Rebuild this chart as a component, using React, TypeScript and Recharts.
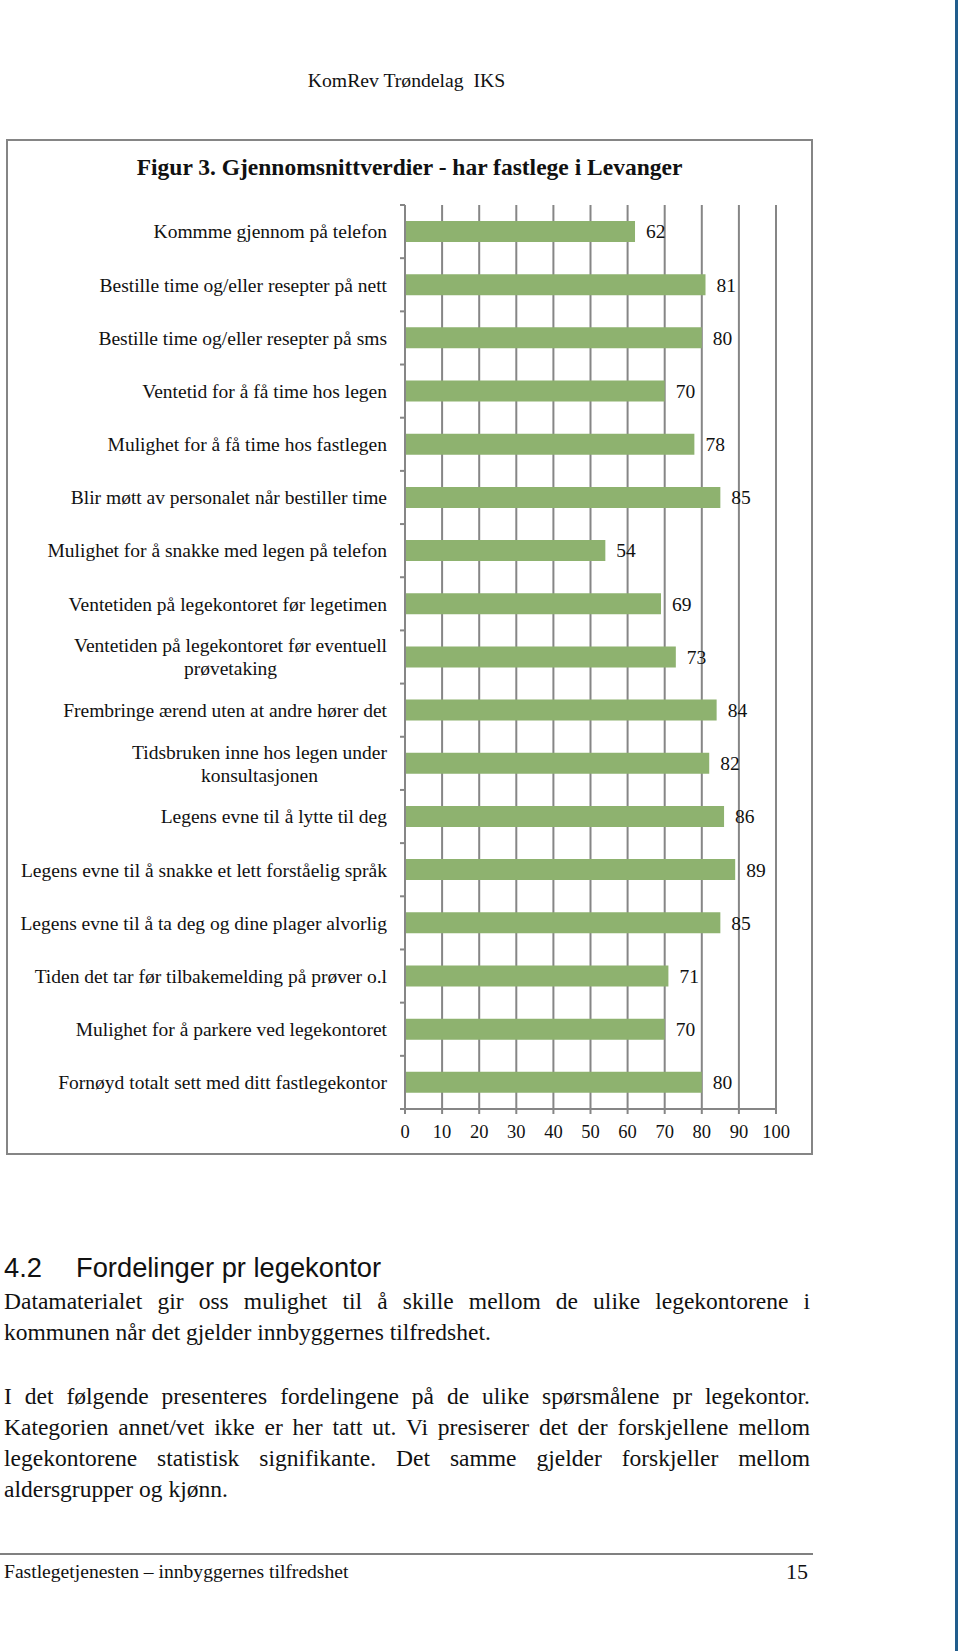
import React from 'react';
import { BarChart, Bar, XAxis, YAxis, CartesianGrid, LabelList } from 'recharts';

const categories: string[] = [
  'Kommme gjennom på telefon',
  'Bestille time og/eller resepter på nett',
  'Bestille time og/eller resepter på sms',
  'Ventetid for å få time hos legen',
  'Mulighet for å få time hos fastlegen',
  'Blir møtt av personalet når bestiller time',
  'Mulighet for å snakke med legen på telefon',
  'Ventetiden på legekontoret før legetimen',
  'Ventetiden på legekontoret før eventuell\nprøvetaking',
  'Frembringe ærend uten at andre hører det',
  'Tidsbruken inne hos legen under\nkonsultasjonen',
  'Legens evne til å lytte til deg',
  'Legens evne til å snakke et lett forståelig språk',
  'Legens evne til å ta deg og dine plager alvorlig',
  'Tiden det tar før tilbakemelding på prøver o.l',
  'Mulighet for å parkere ved legekontoret',
  'Fornøyd totalt sett med ditt fastlegekontor',
];

const values: number[] = [62, 81, 80, 70, 78, 85, 54, 69, 73, 84, 82, 86, 89, 85, 71, 70, 80];

const xTicks: number[] = [0, 10, 20, 30, 40, 50, 60, 70, 80, 90, 100];

const data = categories.map((name, i) => ({ name, value: values[i] }));

const SERIF = '"Liberation Serif", "Times New Roman", serif';
const SANS = '"Liberation Sans", Arial, sans-serif';
const GRID = '#868686';
const BAR = '#8eb26f';

const CHART_W = 820;
const CHART_H = 960;
const MARGIN = { top: 10, right: 44, bottom: 6, left: 0 };
const Y_W = 405;
const X_H = 40;
const PLOT_H = CHART_H - MARGIN.top - MARGIN.bottom - X_H;
const BAND = PLOT_H / categories.length;

const LABEL_SIZE = 19.5;
const LABEL_FONT = `${LABEL_SIZE}px "Liberation Serif"`;

let ctx: CanvasRenderingContext2D | null = null;
function measure(t: string): number {
  if (!ctx) ctx = document.createElement('canvas').getContext('2d');
  if (!ctx) return t.length * 8;
  ctx.font = LABEL_FONT;
  return ctx.measureText(t).width;
}

const CategoryTick = (props: any) => {
  const { x, y, payload, index } = props;
  const lines = String(payload.value).split('\n');
  const gap = 18;
  const lineH = 23;
  const startY = y - ((lines.length - 1) * lineH) / 2;
  const maxW = Math.max(...lines.map(measure));
  const multi = lines.length > 1;
  const tx = multi ? x - gap - maxW / 2 : x - gap;
  return (
    <g>
      <line x1={x - 5} x2={x} y1={y - BAND / 2} y2={y - BAND / 2} stroke={GRID} strokeWidth={2} />
      {index === categories.length - 1 && (
        <line x1={x - 5} x2={x} y1={y + BAND / 2} y2={y + BAND / 2} stroke={GRID} strokeWidth={2} />
      )}
      <text
        textAnchor={multi ? 'middle' : 'end'}
        fontFamily={SERIF}
        fontSize={LABEL_SIZE}
        fill="#111"
      >
        {lines.map((l, i) => (
          <tspan key={i} x={tx} y={startY + i * lineH} dy="0.35em">
            {l}
          </tspan>
        ))}
      </text>
    </g>
  );
};

const abs = (left: number, top: number, extra: React.CSSProperties = {}): React.CSSProperties => ({
  position: 'absolute',
  left,
  top,
  ...extra,
});

const justLine: React.CSSProperties = {
  textAlign: 'justify',
  textAlignLast: 'justify',
  whiteSpace: 'nowrap',
};

export default function App() {
  return (
    <div
      style={{
        position: 'absolute',
        left: 0,
        top: 0,
        width: 960,
        height: 1651,
        background: '#fff',
        overflow: 'hidden',
        fontFamily: SERIF,
        color: '#111',
      }}
    >
      {/* header */}
      <div
        style={abs(0, 68, {
          width: 813,
          textAlign: 'center',
          fontSize: 19.7,
          lineHeight: '24px',
          whiteSpace: 'pre',
        })}
      >
        {'KomRev Trøndelag  IKS'}
      </div>

      {/* chart frame */}
      <div
        style={abs(6, 139, {
          width: 807,
          height: 1016,
          border: '2px solid #858585',
          boxSizing: 'border-box',
        })}
      />
      <div
        style={abs(6, 152, {
          width: 807,
          textAlign: 'center',
          fontSize: 23.5,
          fontWeight: 'bold',
          lineHeight: '30px',
          whiteSpace: 'nowrap',
        })}
      >
        Figur 3. Gjennomsnittverdier - har fastlege i Levanger
      </div>

      <div style={abs(0, 195)}>
        <BarChart width={CHART_W} height={CHART_H} data={data} layout="vertical" margin={MARGIN}>
          <CartesianGrid horizontal={false} vertical stroke={GRID} strokeWidth={2} />
          <XAxis
            type="number"
            domain={[0, 100]}
            ticks={xTicks}
            interval={0}
            height={X_H}
            stroke={GRID}
            strokeWidth={2}
            tickSize={5}
            tickMargin={11}
            tick={{ fill: '#111', fontFamily: SERIF, fontSize: 18.5 }}
          />
          <YAxis
            type="category"
            dataKey="name"
            width={Y_W}
            interval={0}
            tickSize={0}
            tickMargin={0}
            tickLine={false}
            axisLine={{ stroke: GRID, strokeWidth: 2 }}
            tick={<CategoryTick />}
          />
          <Bar dataKey="value" fill={BAR} barSize={21} isAnimationActive={false}>
            <LabelList
              dataKey="value"
              position="right"
              offset={11}
              fill="#111"
              fontFamily={SERIF}
              fontSize={19.5}
            />
          </Bar>
        </BarChart>
      </div>

      {/* section heading */}
      <div style={abs(4, 1252, { fontFamily: SANS, fontSize: 27.3, lineHeight: '32px', whiteSpace: 'nowrap' })}>
        4.2
      </div>
      <div style={abs(76, 1252, { fontFamily: SANS, fontSize: 27.3, lineHeight: '32px', whiteSpace: 'nowrap' })}>
        Fordelinger pr legekontor
      </div>

      {/* paragraphs */}
      <div style={abs(4, 1286, { width: 806, fontSize: 23.5, lineHeight: '31px' })}>
        <div style={justLine}>Datamaterialet gir oss mulighet til å skille mellom de ulike legekontorene i</div>
        <div style={{ whiteSpace: 'nowrap' }}>kommunen når det gjelder innbyggernes tilfredshet.</div>
      </div>
      <div style={abs(4, 1381, { width: 806, fontSize: 23.5, lineHeight: '31px' })}>
        <div style={justLine}>I det følgende presenteres fordelingene på de ulike spørsmålene pr legekontor.</div>
        <div style={justLine}>Kategorien annet/vet ikke er her tatt ut. Vi presiserer det der forskjellene mellom</div>
        <div style={justLine}>legekontorene statistisk signifikante. Det samme gjelder forskjeller mellom</div>
        <div style={{ whiteSpace: 'nowrap' }}>aldersgrupper og kjønn.</div>
      </div>

      {/* footer */}
      <div style={abs(0, 1553, { width: 813, height: 2, background: '#808080' })} />
      <div style={abs(4, 1559, { fontSize: 19.6, lineHeight: '26px', whiteSpace: 'nowrap' })}>
        Fastlegetjenesten – innbyggernes tilfredshet
      </div>
      <div style={abs(708, 1558, { width: 100, textAlign: 'right', fontSize: 22, lineHeight: '28px' })}>15</div>

      {/* right edge rule */}
      <div style={abs(955, 0, { width: 3, height: 1651, background: '#215d8c' })} />
    </div>
  );
}
